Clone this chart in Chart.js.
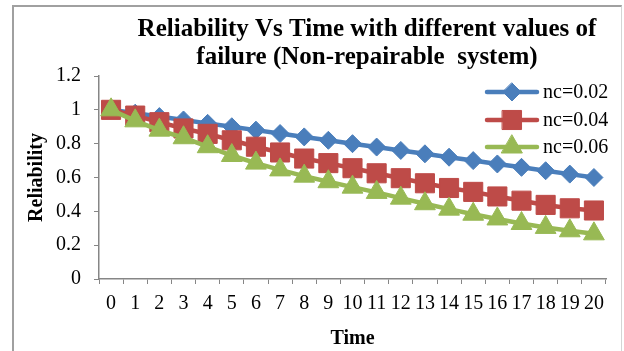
<!DOCTYPE html>
<html>
<head>
<meta charset="utf-8">
<script src="https://cdn.jsdelivr.net/npm/chart.js@4/dist/chart.umd.min.js"></script>
<style>
  html, body { margin: 0; padding: 0; background: #ffffff; overflow: hidden; }
  #frame { position: absolute; left: 12px; top: 5px; width: 607px; height: 400px;
           border-left: 2px solid #a0a0a0; border-top: 2px solid #a0a0a0; border-right: 1px solid #d4d4d4; }
  #wrap { position: absolute; left: 0; top: 0; width: 624px; height: 351px; }
</style>
</head>
<body>
<div id="frame"></div>
<div id="wrap"><canvas id="c" width="624" height="351"></canvas></div>
<script>
// ---- data ----
const titleLines = ["Reliability Vs Time with different values of", "failure (Non-repairable  system)"];
const timeLabels = ["0","1","2","3","4","5","6","7","8","9","10","11","12","13","14","15","16","17","18","19","20"];
const seriesNames = ["nc=0.02", "nc=0.04", "nc=0.06"];
const nc002 = [1.00, 0.98, 0.96, 0.94, 0.92, 0.90, 0.88, 0.86, 0.84, 0.82, 0.80, 0.78, 0.76, 0.74, 0.72, 0.70, 0.68, 0.66, 0.64, 0.62, 0.60];
const nc004 = [1.00, 0.966, 0.927, 0.89, 0.858, 0.82, 0.782, 0.748, 0.712, 0.685, 0.655, 0.625, 0.596, 0.566, 0.538, 0.515, 0.488, 0.463, 0.438, 0.418, 0.405];
const nc006 = [1.00, 0.935, 0.88, 0.835, 0.782, 0.73, 0.685, 0.645, 0.608, 0.575, 0.543, 0.512, 0.478, 0.445, 0.413, 0.383, 0.355, 0.328, 0.305, 0.285, 0.267];
const yTicks = [0, 0.2, 0.4, 0.6, 0.8, 1, 1.2];
const yTickLabels = ["0", "0.2", "0.4", "0.6", "0.8", "1", "1.2"];
const xTitle = "Time";
const yTitle = "Reliability";

const colors = ["#4A7EBB", "#BE4B48", "#98B954"];
const styles = ["rectRot", "rect", "triangle"];
const radii = [9, 13.5, 12];
const serif = "'Liberation Serif', 'Times New Roman', serif";

function drawMarker(ctx, style, x, y, r, color) {
  ctx.save();
  ctx.fillStyle = color; ctx.strokeStyle = color; ctx.lineWidth = 1;
  ctx.beginPath();
  if (style === 'rectRot') {
    ctx.moveTo(x, y - r); ctx.lineTo(x + r, y); ctx.lineTo(x, y + r); ctx.lineTo(x - r, y);
  } else if (style === 'rect') {
    const s = Math.SQRT1_2 * r; ctx.rect(x - s, y - s, 2 * s, 2 * s);
  } else {
    ctx.moveTo(x, y - r);
    ctx.lineTo(x + r * Math.sin(2 * Math.PI / 3), y - r * Math.cos(2 * Math.PI / 3));
    ctx.lineTo(x + r * Math.sin(4 * Math.PI / 3), y - r * Math.cos(4 * Math.PI / 3));
  }
  ctx.closePath(); ctx.fill(); ctx.stroke();
  ctx.restore();
}

const decor = {
  id: 'decor',
  afterDraw(chart) {
    const ctx = chart.ctx;
    ctx.save();
    ctx.fillStyle = '#000';
    ctx.font = "bold 25px " + serif;
    ctx.textAlign = 'center'; ctx.textBaseline = 'alphabetic';
    ctx.fillText(titleLines[0], 367, 36);
    ctx.fillText(titleLines[1], 367, 64);
    // legend
    const rows = [92, 120, 147];
    chart.data.datasets.forEach((ds, i) => {
      const y = rows[i];
      ctx.strokeStyle = colors[i]; ctx.lineWidth = 4.5; ctx.lineCap = 'round';
      ctx.beginPath(); ctx.moveTo(487, y); ctx.lineTo(537, y); ctx.stroke();
      drawMarker(ctx, styles[i], 512, y, radii[i], colors[i]);
      ctx.fillStyle = '#000'; ctx.font = "20px " + serif;
      ctx.textAlign = 'left'; ctx.textBaseline = 'middle';
      ctx.fillText(ds.label, 543, y + 1);
    });
    ctx.restore();
  }
};

const datasetsData = [nc002, nc004, nc006];
new Chart(document.getElementById('c'), {
  type: 'line',
  data: {
    labels: timeLabels,
    datasets: datasetsData.map((d, i) => ({
      label: seriesNames[i],
      data: d,
      borderColor: colors[i],
      backgroundColor: colors[i],
      pointBackgroundColor: colors[i],
      pointBorderColor: colors[i],
      borderWidth: 4.5,
      pointStyle: styles[i],
      pointRadius: radii[i],
      pointBorderWidth: 1,
      tension: 0,
      order: 3 - i
    }))
  },
  options: {
    responsive: false,
    animation: false,
    devicePixelRatio: 1,
    layout: { padding: { left: 12, right: 18, top: 76, bottom: 0 } },
    plugins: { legend: { display: false }, title: { display: false }, tooltip: { enabled: false } },
    scales: {
      x: {
        type: 'category',
        offset: true,
        afterFit(s) { s.height = 72; },
        grid: { offset: true, drawOnChartArea: false, drawTicks: true, tickLength: 5, color: '#868686' },
        border: { color: '#868686', width: 1.5 },
        ticks: { color: '#000', font: { family: serif, size: 20 }, padding: 8, maxRotation: 0, autoSkip: false },
        title: { display: true, text: xTitle, color: '#000', font: { family: serif, size: 20, weight: 'bold' }, padding: { top: 0, bottom: 0 } }
      },
      y: {
        min: 0, max: 1.2,
        afterFit(s) { s.width = 87; },
        afterBuildTicks(s) { s.ticks = yTicks.map(v => ({ value: v })); },
        grid: { drawOnChartArea: false, drawTicks: true, tickLength: 5, color: '#868686' },
        border: { color: '#868686', width: 1.5 },
        ticks: { color: '#000', font: { family: serif, size: 20 }, padding: 13,
                 callback: (v, i) => yTickLabels[i] },
        title: { display: true, text: yTitle, color: '#000', font: { family: serif, size: 20, weight: 'bold' }, padding: { top: 13, bottom: 0 } }
      }
    }
  },
  plugins: [decor]
});
</script>
</body>
</html>
